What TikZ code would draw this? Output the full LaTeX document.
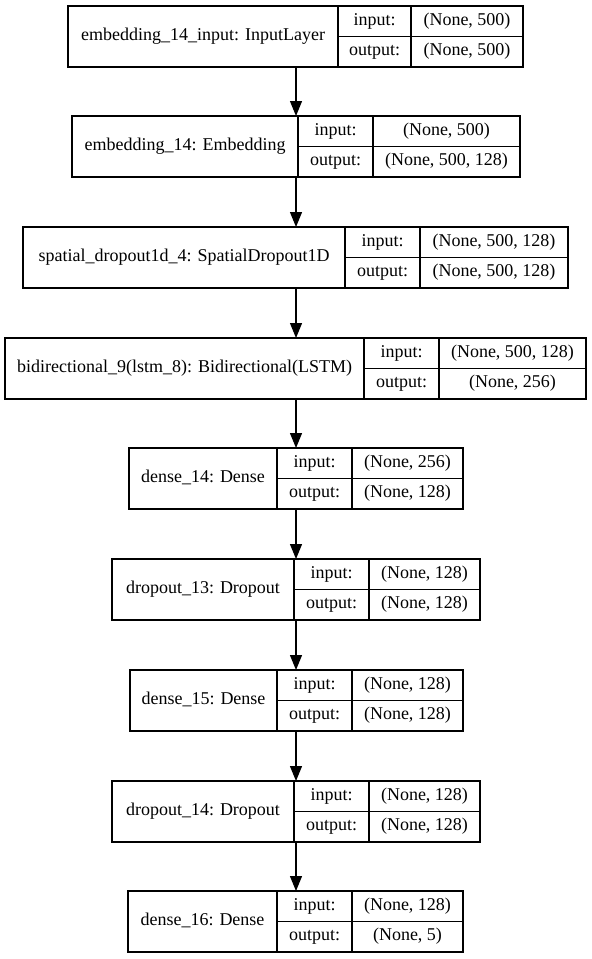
\documentclass[tikz,border=0pt]{standalone}
\usepackage{fontspec}
\setmainfont{Liberation Serif}
\usetikzlibrary{arrows.meta}

% #1 name, #2 top, #3 left, #4 first divider, #5 second divider, #6 right, #7 layer, #8 input shape, #9 output shape
\newcommand{\layerbox}[9]{%
    \pgfmathsetmacro\wname{#4-#3}%
    \pgfmathsetmacro\wkey{#5-#4}%
    \pgfmathsetmacro\wval{#6-#5}%
    \node [cell, minimum width=\wname pt, minimum height=61pt] (#1) at ({(#3+#4)/2}, {#2+30.5}) {#7};
    \node [cell, minimum width=\wkey pt] (#1-ik) at ({(#4+#5)/2}, {#2+15.25}) {input:};
    \node [cell, minimum width=\wkey pt] (#1-ok) at ({(#4+#5)/2}, {#2+45.75}) {output:};
    \node [cell, minimum width=\wval pt] (#1-iv) at ({(#5+#6)/2}, {#2+15.25}) {#8};
    \node [cell, minimum width=\wval pt] (#1-ov) at ({(#5+#6)/2}, {#2+45.75}) {#9};
}

\begin{document}
\begin{tikzpicture}[
        x=1pt, y=-1pt,
        cell/.style={rectangle, draw=black, line width=1.2pt, inner sep=0pt, outer sep=0pt, minimum height=30.5pt, align=center, font=\fontsize{18}{20}\selectfont, text height=12pt, text depth=4pt},
        line/.style={draw=black, line width=1.2pt, -{Triangle[length=15pt, width=12pt]}}
    ]
        \fill [white] (0,0) rectangle (592,959);
        \useasboundingbox (0,0) rectangle (592,959);
        \coordinate (axis) at (296,0);

        % Capas del modelo
        \layerbox{inp}{6}{68}{338}{411}{523}{embedding\_14\_input: InputLayer}{(None, 500)}{(None, 500)}
        \layerbox{emb}{116}{72}{298}{373}{520}{embedding\_14: Embedding}{(None, 500)}{(None, 500, 128)}
        \layerbox{sdrop}{227}{23}{345}{420}{568}{spatial\_dropout1d\_4: SpatialDropout1D}{(None, 500, 128)}{(None, 500, 128)}
        \layerbox{bilstm}{338}{5}{364}{439}{586}{bidirectional\_9(lstm\_8): Bidirectional(LSTM)}{(None, 500, 128)}{(None, 256)}
        \layerbox{dsa}{448}{129}{277}{352}{463}{dense\_14: Dense}{(None, 256)}{(None, 128)}
        \layerbox{dropa}{559}{112}{294}{369}{480}{dropout\_13: Dropout}{(None, 128)}{(None, 128)}
        \layerbox{dsb}{670}{130}{277}{352}{463}{dense\_15: Dense}{(None, 128)}{(None, 128)}
        \layerbox{dropb}{781}{112}{294}{369}{480}{dropout\_14: Dropout}{(None, 128)}{(None, 128)}
        \layerbox{dsc}{891}{128}{277}{352}{463}{dense\_16: Dense}{(None, 128)}{(None, 5)}

        % Conexiones
        \draw [line] (inp.south -| axis) -- (emb.north -| axis);
        \draw [line] (emb.south -| axis) -- (sdrop.north -| axis);
        \draw [line] (sdrop.south -| axis) -- (bilstm.north -| axis);
        \draw [line] (bilstm.south -| axis) -- (dsa.north -| axis);
        \draw [line] (dsa.south -| axis) -- (dropa.north -| axis);
        \draw [line] (dropa.south -| axis) -- (dsb.north -| axis);
        \draw [line] (dsb.south -| axis) -- (dropb.north -| axis);
        \draw [line] (dropb.south -| axis) -- (dsc.north -| axis);
    \end{tikzpicture}
\end{document}
